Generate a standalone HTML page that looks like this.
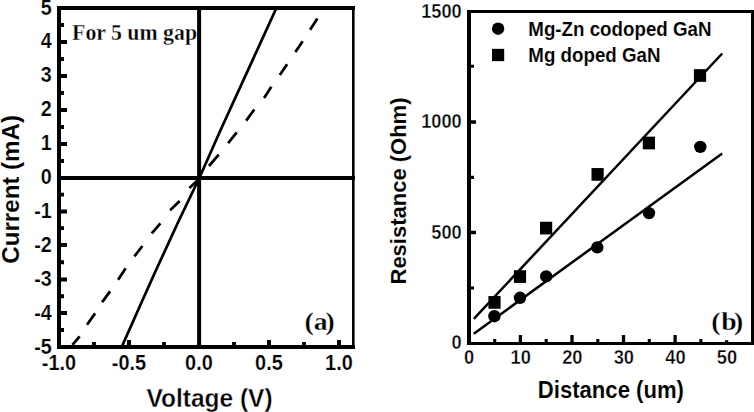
<!DOCTYPE html>
<html><head><meta charset="utf-8"><title>Figure</title>
<style>
html,body{margin:0;padding:0;background:#fff;}
body{width:754px;height:412px;overflow:hidden;}
svg{display:block;}
.sb{font-family:"Liberation Sans",Arial,sans-serif;font-weight:bold;fill:#000;stroke:#fff;stroke-width:0.35px;}
.lg{stroke-width:0.7px;}
.bd{stroke-width:0.1px;}
.bd2{stroke-width:0.2px;}
.tb{font-family:"Liberation Serif","Times New Roman",serif;font-weight:bold;fill:#000;stroke:#fff;stroke-width:0.3px;}
</style></head><body>
<svg width="754" height="412" viewBox="0 0 754 412">
<rect width="754" height="412" fill="#fff"/>

<g stroke="#000" fill="none" stroke-linecap="butt">
<path d="M59.0 349.0V6.0" stroke-width="4"/>
<path d="M59.0 8.0H355" stroke-width="4"/>
<path d="M353.3 8.0V349.0" stroke-width="2.6"/>
<path d="M59.0 347.0H355" stroke-width="4"/>
<path d="M199.1 8.0V347.0M59.0 178.0H355" stroke-width="4"/>
<path d="M59.0 347.0H67M59.0 313.0H67M59.0 279.5H67M59.0 245.0H67M59.0 211.4H67M59.0 178.0H67M59.0 144.0H67M59.0 110.0H67M59.0 76.0H67M59.0 42.0H67M59.0 8.0H67" stroke-width="4"/>
<path d="M59.0 330.00H64M59.0 296.25H64M59.0 262.25H64M59.0 228.20H64M59.0 194.70H64M59.0 161.00H64M59.0 127.00H64M59.0 93.00H64M59.0 59.00H64M59.0 25.00H64" stroke-width="3.8"/>
<path d="M129.0 347.0V340M269.0 347.0V340M339.0 347.0V340" stroke-width="4"/>
<path d="M94.0 347.0V342M164.0 347.0V342M234.0 347.0V342M304.0 347.0V342" stroke-width="3.8"/>
<path d="M121.7 347.0 L142.6 300 L153.8 275 L178.2 222 L199.3 178.0 L220.6 130 L276.4 8.0" stroke-width="2.75" stroke-linejoin="round"/>
<path d="M317.4 18.4L310.1 29.7M302.7 41.3L295.4 52M287.1 64.3L279.8 75M271.3 86.8L264.1 98M254.3 109.5L246.2 120.6M236.8 132.4L228.1 143.1M218.7 154.7L209 166M198 180L189.4 188M179.7 201L170.1 210.3M160.4 223.3L151.7 233.4M142.4 246L134.4 256.3M125.7 268.3L118.1 279.8M110.1 291.4L102.1 302.1M95.1 313.4L87 324.7M79.7 336.3L72.4 344.9" stroke-width="2.75"/>
</g>
<text class="sb bd2" font-size="19.7" text-anchor="end" transform="translate(51.70 354.00) scale(1 1.12)">-5</text>
<text class="sb bd2" font-size="19.7" text-anchor="end" transform="translate(51.70 319.50) scale(1 1.12)">-4</text>
<text class="sb bd2" font-size="19.7" text-anchor="end" transform="translate(51.70 286.20) scale(1 1.12)">-3</text>
<text class="sb bd2" font-size="19.7" text-anchor="end" transform="translate(51.70 251.50) scale(1 1.12)">-2</text>
<text class="sb bd2" font-size="19.7" text-anchor="end" transform="translate(51.70 217.90) scale(1 1.12)">-1</text>
<text class="sb bd2" font-size="19.7" text-anchor="end" transform="translate(51.70 183.70) scale(1 1.12)">0</text>
<text class="sb bd2" font-size="19.7" text-anchor="end" transform="translate(51.70 149.90) scale(1 1.12)">1</text>
<text class="sb bd2" font-size="19.7" text-anchor="end" transform="translate(51.70 116.40) scale(1 1.12)">2</text>
<text class="sb bd2" font-size="19.7" text-anchor="end" transform="translate(51.70 82.00) scale(1 1.12)">3</text>
<text class="sb bd2" font-size="19.7" text-anchor="end" transform="translate(51.70 48.10) scale(1 1.12)">4</text>
<text class="sb bd2" font-size="19.7" text-anchor="end" transform="translate(51.70 15.00) scale(1 1.12)">5</text>
<text class="sb bd2" font-size="19.9" text-anchor="middle" transform="translate(58.90 369.70) scale(1 1.09)">-1.0</text>
<text class="sb bd2" font-size="19.9" text-anchor="middle" transform="translate(128.90 369.70) scale(1 1.09)">-0.5</text>
<text class="sb bd2" font-size="19.9" text-anchor="middle" transform="translate(198.90 369.70) scale(1 1.09)">0.0</text>
<text class="sb bd2" font-size="19.9" text-anchor="middle" transform="translate(268.90 369.70) scale(1 1.09)">0.5</text>
<text class="sb bd2" font-size="19.9" text-anchor="middle" transform="translate(338.90 369.70) scale(1 1.09)">1.0</text>
<text class="sb" font-size="24.5" text-anchor="start" transform="translate(146.50 406.90) scale(1 1.03)">Voltage (V)</text>
<text class="sb bd" font-size="24.1" text-anchor="middle" transform="translate(19.30 189.35) rotate(-90) scale(1 1.01)">Current (mA)</text>
<text class="tb" font-size="21.8" text-anchor="start" transform="translate(72.10 39.75) scale(1 1.06)">For 5 um gap</text>
<text class="tb" font-size="24.8" x="271.79 280.18 290.54" y="329.9" transform="scale(1.12 1)">(a)</text>
<g stroke="#000" fill="none">
<path d="M469.0 345.1V9.9" stroke-width="4"/>
<path d="M469.0 11.5H755" stroke-width="3.2"/>
<path d="M752.7 11.5V345.1" stroke-width="3.4"/>
<path d="M469.0 343.5H755" stroke-width="3.2"/>
<path d="M469.0 232.5H476M469.0 122.0H476M520.4 343.5V335M572.0 343.5V335M623.5 343.5V335M675.1 343.5V335M726.6 343.5V340.2" stroke-width="3.3"/>
<path d="M469.0 288.0H474M469.0 177.4H474M469.0 66.3H474M494.7 343.5V338.9M546.2 343.5V338.9M597.8 343.5V338.9M649.3 343.5V338.9M700.9 343.5V338.9" stroke-width="3.1"/>
<path d="M473.8 318.9L722.2 53.5" stroke-width="2.5"/>
<path d="M473.8 333.7L722.2 153.5" stroke-width="2.5"/>
</g>
<g fill="#000">
<rect x="488.4" y="296.05" width="12.2" height="12.7"/>
<rect x="513.9" y="270.25" width="12.2" height="12.7"/>
<rect x="540.0" y="221.75" width="12.2" height="12.7"/>
<rect x="591.5" y="168.05" width="12.2" height="12.7"/>
<rect x="642.8" y="136.65" width="12.2" height="12.7"/>
<rect x="693.9" y="69.15" width="12.2" height="12.7"/>
<rect x="492.0" y="48.85" width="12.2" height="12.3"/>
<circle cx="494.4" cy="316.2" r="6.2"/>
<circle cx="520.0" cy="297.8" r="6.2"/>
<circle cx="546.2" cy="276.4" r="6.2"/>
<circle cx="597.3" cy="247.4" r="6.2"/>
<circle cx="649" cy="213.1" r="6.2"/>
<circle cx="700.3" cy="146.9" r="6.2"/>
<circle cx="498.1" cy="28.7" r="6.2"/>
</g>
<text class="sb" font-size="18.2" text-anchor="end" transform="translate(461.70 348.90) scale(1 1.15)">0</text>
<text class="sb" font-size="18.2" text-anchor="end" transform="translate(461.70 238.60) scale(1 1.15)">500</text>
<text class="sb" font-size="18.2" text-anchor="end" transform="translate(461.70 128.30) scale(1 1.15)">1000</text>
<text class="sb" font-size="18.2" text-anchor="end" transform="translate(461.70 17.50) scale(1 1.15)">1500</text>
<text class="sb" font-size="18.3" text-anchor="middle" transform="translate(469.20 364.10) scale(1 1.12)">0</text>
<text class="sb" font-size="18.3" text-anchor="middle" transform="translate(520.75 364.10) scale(1 1.12)">10</text>
<text class="sb" font-size="18.3" text-anchor="middle" transform="translate(572.30 364.10) scale(1 1.12)">20</text>
<text class="sb" font-size="18.3" text-anchor="middle" transform="translate(623.85 364.10) scale(1 1.12)">30</text>
<text class="sb" font-size="18.3" text-anchor="middle" transform="translate(675.40 364.10) scale(1 1.12)">40</text>
<text class="sb" font-size="18.3" text-anchor="middle" transform="translate(726.95 364.10) scale(1 1.12)">50</text>
<text class="sb bd" font-size="18.75" text-anchor="start" transform="translate(528.30 36.10) scale(1 1.08)">Mg-Zn codoped GaN</text>
<text class="sb bd" font-size="18.75" text-anchor="start" transform="translate(528.30 61.60) scale(1 1.07)">Mg doped GaN</text>
<text class="sb bd" font-size="22.1" text-anchor="start" transform="translate(537.80 398.00) scale(1 1.08)">Distance (um)</text>
<text class="sb bd" font-size="22.0" text-anchor="middle" transform="translate(405.90 191.00) rotate(-90) scale(1 1.04)">Resistance (Ohm)</text>
<text class="tb" font-size="24.8" x="635.00 644.02 655.45" y="330.3" transform="scale(1.12 1)">(b)</text>
</svg></body></html>
